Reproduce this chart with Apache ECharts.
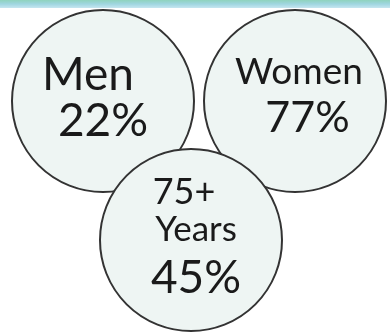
<!DOCTYPE html>
<html>
<head>
<meta charset="utf-8">
<script src="https://cdn.jsdelivr.net/npm/echarts@6/dist/echarts.min.js"></script>
<style>
  html, body { margin: 0; padding: 0; background: #ffffff; }
  #chart { width: 390px; height: 333px; }
</style>
</head>
<body>
<div id="chart"></div>
<script>
// Group labels and their shares (percent)
const categories = ['Men', 'Women', '75+\nYears'];
const shares = [22, 77, 45];

// Bubble centres in pixel space (x, y from top-left)
const centres = [[103, 101], [295, 101], [191, 240]];
const bubbleDiameter = 182;

const FONT = 'Lato';

// Per-bubble label styling: rich text blocks and fine offsets
const labelStyles = [
  {
    offset: [0, -3],
    rich: {
      n: { fontSize: 46, lineHeight: 46, padding: [0, 30, 0, 0] },
      v: { fontSize: 46, lineHeight: 46 }
    }
  },
  {
    offset: [8, -6],
    rich: {
      n: { fontSize: 37, lineHeight: 46, padding: [0, 8, 0, 0] },
      v: { fontSize: 43, lineHeight: 46, padding: [0, 0, 0, 9] }
    }
  },
  {
    offset: [5, 1],
    rich: {
      n0: { fontSize: 36, lineHeight: 36, padding: [0, 24, 0, 0] },
      n: { fontSize: 35, lineHeight: 39 },
      v: { fontSize: 46, lineHeight: 58 }
    }
  }
];

function labelText(i) {
  const lines = categories[i].split('\n');
  const parts = lines.map((ln, k) => {
    const key = (lines.length > 1 && k === 0) ? 'n0' : 'n';
    return '{' + key + '|' + ln + '}';
  });
  parts.push('{v|' + shares[i] + '%}');
  return parts.join('\n');
}

const data = categories.map((name, i) => {
  const st = labelStyles[i];
  const rich = {};
  Object.keys(st.rich).forEach(k => {
    rich[k] = Object.assign({ fontFamily: FONT, fontWeight: 400, color: '#1a1a1a', align: 'center' }, st.rich[k]);
  });
  return {
    name: name,
    value: [centres[i][0], centres[i][1], shares[i]],
    label: {
      show: true,
      position: 'inside',
      offset: st.offset,
      formatter: labelText(i),
      rich: rich
    }
  };
});

const chart = echarts.init(document.getElementById('chart'), null, { renderer: 'canvas' });

chart.setOption({
  backgroundColor: '#ffffff',
  animation: false,
  grid: { left: 0, right: 0, top: 0, bottom: 0 },
  xAxis: { type: 'value', min: 0, max: 390, show: false },
  yAxis: { type: 'value', min: 0, max: 333, inverse: true, show: false },
  graphic: [
    {
      type: 'rect',
      left: 0, top: 0,
      shape: { width: 390, height: 8 },
      style: {
        fill: new echarts.graphic.LinearGradient(0, 0, 0, 1, [
          { offset: 0, color: '#8fd3bd' },
          { offset: 0.5, color: '#9fd6e0' },
          { offset: 1, color: '#c6e6f0' }
        ])
      },
      z: 10
    }
  ],
  series: [
    {
      type: 'scatter',
      symbol: 'circle',
      symbolSize: bubbleDiameter,
      itemStyle: {
        color: '#eef5f3',
        borderColor: '#333333',
        borderWidth: 2,
        opacity: 1
      },
      emphasis: { disabled: true },
      data: data
    }
  ]
});
</script>
</body>
</html>
